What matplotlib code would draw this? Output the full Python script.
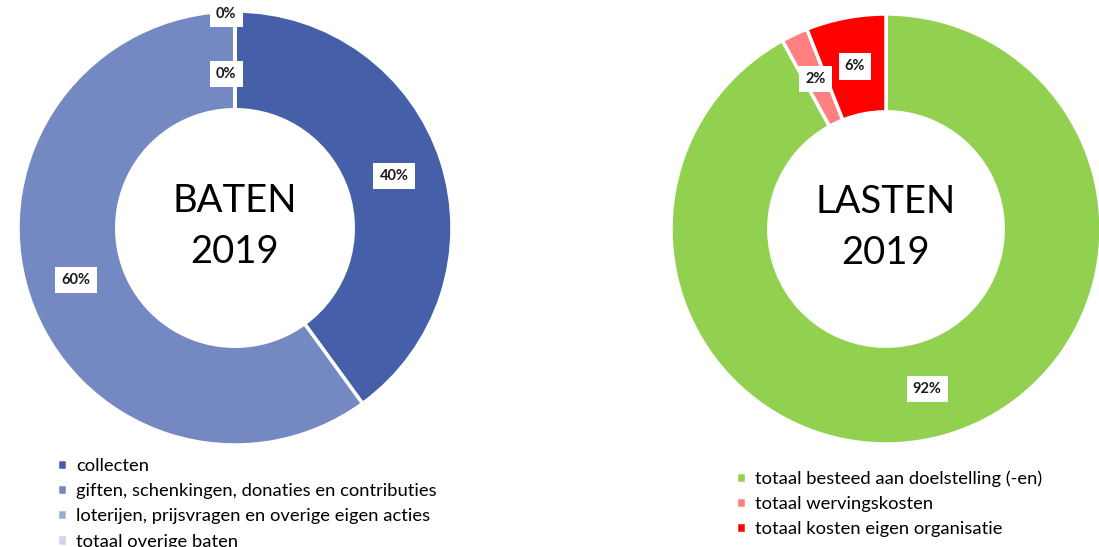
import numpy as np
import matplotlib.pyplot as plt

plt.rcParams['font.family'] = ['Lato', 'DejaVu Sans']

# Data
baten_labels = ["collecten", "giften, schenkingen, donaties en contributies",
                "loterijen, prijsvragen en overige eigen acties", "totaal overige baten"]
baten_values = [40, 60, 0, 0]
baten_colors = ["#4560A9", "#7489C1", "#9EABD5", "#CED4EA"]

lasten_labels = ["totaal besteed aan doelstelling (-en)", "totaal wervingskosten",
                 "totaal kosten eigen organisatie"]
lasten_values = [92, 2, 6]
lasten_colors = ["#92D050", "#FF8080", "#FF0000"]

W, H = 1099, 547
fig = plt.figure(figsize=(W / 100, H / 100), dpi=100)


def donut(cx, cy, r, values, colors, title, label_r):
    # axes placed in pixel coordinates so the ring sits where the reference has it
    ax = fig.add_axes([(cx - r) / W, (H - cy - r) / H, 2 * r / W, 2 * r / H])
    wedges, _ = ax.pie(values, colors=colors, startangle=90, counterclock=False,
                       radius=1, wedgeprops=dict(width=0.455, edgecolor="white", linewidth=2.5))
    ax.set_xlim(-1, 1)
    ax.set_ylim(-1, 1)
    ax.set_aspect("equal")
    ax.axis("off")
    total = sum(values)
    cum = 0
    for v, lr in zip(values, label_r):
        ang = np.deg2rad(90 - 360 * (cum + v / 2) / total)
        cum += v
        ax.text(lr * np.cos(ang) - (0.04 if v == 0 else 0), lr * np.sin(ang),
                f"{v / total * 100:.0f}%", ha="center", va="center",
                fontsize=10.5, fontweight="bold", color="#1a1a1a",
                bbox=dict(boxstyle="square,pad=0.42", fc="white", ec="none"))
    ax.text(0, 0.005, title, ha="center", va="center", fontsize=27.5, linespacing=1.52,
            color="black")
    return ax, wedges


ax1, w1 = donut(235, 228, 217, baten_values, baten_colors, "BATEN\n2019",
                [0.77, 0.77, 0.71, 0.985])
ax2, w2 = donut(886, 229, 215, lasten_values, lasten_colors, "LASTEN\n2019",
                [0.77, 0.77, 0.77])

leg_kw = dict(frameon=False, fontsize=13.2, handlelength=0.55, handleheight=0.55,
              handletextpad=0.5, labelspacing=0.5, borderpad=0, borderaxespad=0)
fig.legend(w1, baten_labels, loc="upper left", bbox_to_anchor=(57 / W, 1 - 458 / H), **leg_kw)
fig.legend(w2, lasten_labels, loc="upper left", bbox_to_anchor=(736 / W, 1 - 470 / H), **leg_kw)

fig.savefig("out.png", dpi=100)
